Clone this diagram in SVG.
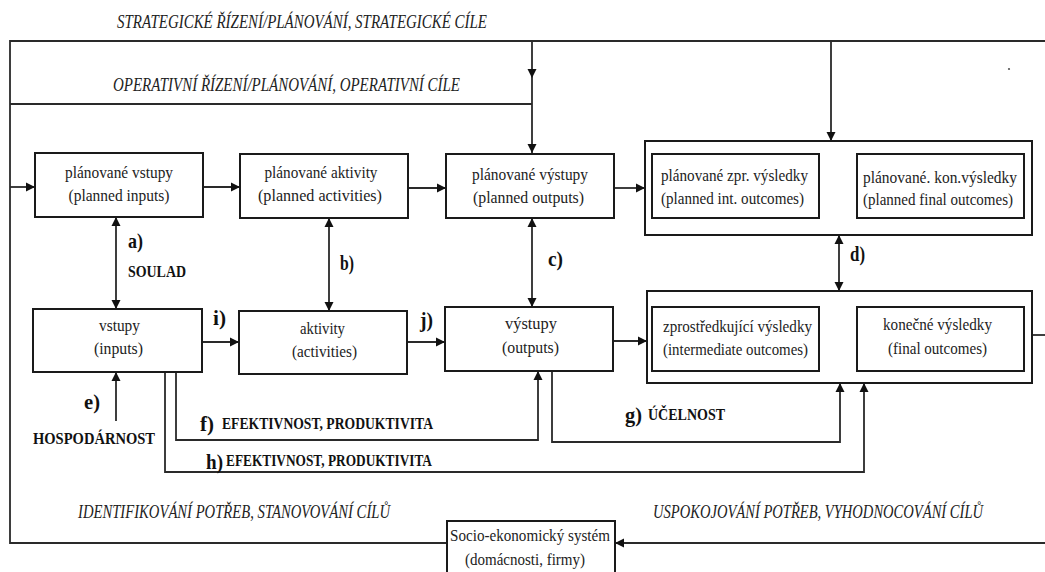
<svg xmlns="http://www.w3.org/2000/svg" width="1045" height="572" viewBox="0 0 1045 572">
<defs>
<marker id="ah" viewBox="0 0 10 10" refX="10" refY="5" markerWidth="9" markerHeight="10" markerUnits="userSpaceOnUse" orient="auto-start-reverse">
<path d="M0,0 L10,5 L0,10 z" fill="#111"/>
</marker>
<style>
.box{fill:#fff;stroke:#1a1a1a;stroke-width:2}
.ln{fill:none;stroke:#2a2a2a;stroke-width:1.8}
.ar{fill:none;stroke:#2a2a2a;stroke-width:1.8;marker-end:url(#ah)}
.dar{fill:none;stroke:#2a2a2a;stroke-width:1.8;marker-start:url(#ah);marker-end:url(#ah)}
.t{font-family:"Liberation Serif",serif;font-size:17px;fill:#222;text-anchor:middle}
.cap{font-family:"Liberation Serif",serif;font-style:italic;font-size:18px;fill:#222;text-anchor:middle}
.lb{font-family:"Liberation Serif",serif;font-weight:bold;font-size:22px;fill:#111}
.bt{font-family:"Liberation Serif",serif;font-weight:bold;font-size:17px;fill:#111}
</style>
</defs>
<rect width="1045" height="572" fill="#fff"/>

<g id="connectors">
<path class="ln" d="M1045,41 H10 V543 H447"/>
<path class="ln" d="M10,104 H532"/>
<path class="ar" d="M532,41 V78"/>
<path class="ar" d="M532,78 V153"/>
<path class="ar" d="M831,41 V141"/>
<path class="ar" d="M10,187 H35"/>
<path class="ar" d="M203,187 H240"/>
<path class="ar" d="M408,188 H446"/>
<path class="ar" d="M614,188 H645"/>
<path class="ar" d="M202,342 H239"/>
<path class="ar" d="M407,342 H445"/>
<path class="ar" d="M613,341 H647"/>
<path class="ln" d="M1032,335 H1045"/>
<path class="ar" d="M1045,543 H615"/>
<path class="dar" d="M116,217 V309"/>
<path class="dar" d="M329,218 V311"/>
<path class="dar" d="M532,218 V307"/>
<path class="dar" d="M839,235 V291"/>
<path class="ar" d="M116,421 V372"/>
<path class="ar" d="M176,372 V440 H538 V371"/>
<path class="ar" d="M165,372 V472 H864 V383"/>
<path class="ar" d="M552,371 V442 H840 V383"/>
</g>
<circle cx="1009" cy="69" r="1.1" fill="#555"/>

<g id="captions">
<text class="cap" x="302" y="28" textLength="370" lengthAdjust="spacingAndGlyphs">STRATEGICKÉ ŘÍZENÍ/PLÁNOVÁNÍ, STRATEGICKÉ CÍLE</text>
<text class="cap" x="286.5" y="91" textLength="347" lengthAdjust="spacingAndGlyphs">OPERATIVNÍ ŘÍZENÍ/PLÁNOVÁNÍ, OPERATIVNÍ CÍLE</text>
<text class="cap" x="234" y="518" textLength="312" lengthAdjust="spacingAndGlyphs">IDENTIFIKOVÁNÍ POTŘEB, STANOVOVÁNÍ CÍLŮ</text>
<text class="cap" x="818" y="518" textLength="330" lengthAdjust="spacingAndGlyphs">USPOKOJOVÁNÍ POTŘEB, VYHODNOCOVÁNÍ CÍLŮ</text>
</g>

<g id="planned-inputs">
<rect class="box" x="35" y="153" width="168" height="64"/>
<text class="t" x="119" y="178" textLength="108" lengthAdjust="spacingAndGlyphs">plánované vstupy</text>
<text class="t" x="119" y="201" textLength="101" lengthAdjust="spacingAndGlyphs">(planned inputs)</text>
</g>
<g id="planned-activities">
<rect class="box" x="240" y="154" width="168" height="64"/>
<text class="t" x="321" y="178" textLength="113" lengthAdjust="spacingAndGlyphs">plánované aktivity</text>
<text class="t" x="320" y="201" textLength="124" lengthAdjust="spacingAndGlyphs">(planned activities)</text>
</g>
<g id="planned-outputs">
<rect class="box" x="446" y="154" width="168" height="64"/>
<text class="t" x="530" y="180" textLength="116" lengthAdjust="spacingAndGlyphs">plánované výstupy</text>
<text class="t" x="528.5" y="203" textLength="111" lengthAdjust="spacingAndGlyphs">(planned outputs)</text>
</g>
<g id="planned-outcomes">
<rect class="box" x="645" y="141" width="387" height="94"/>
<rect class="box" x="652" y="154" width="167" height="64"/>
<text class="t" x="734.5" y="181" textLength="147" lengthAdjust="spacingAndGlyphs">plánované zpr. výsledky</text>
<text class="t" x="732.5" y="204" textLength="143" lengthAdjust="spacingAndGlyphs">(planned int. outcomes)</text>
<rect class="box" x="857" y="154" width="167" height="64"/>
<text class="t" x="940" y="183" textLength="154" lengthAdjust="spacingAndGlyphs">plánované. kon.výsledky</text>
<text class="t" x="938" y="205" textLength="150" lengthAdjust="spacingAndGlyphs">(planned final outcomes)</text>
</g>

<g id="inputs">
<rect class="box" x="33" y="309" width="169" height="63"/>
<text class="t" x="119.5" y="331" textLength="41" lengthAdjust="spacingAndGlyphs">vstupy</text>
<text class="t" x="118.5" y="354" textLength="49" lengthAdjust="spacingAndGlyphs">(inputs)</text>
</g>
<g id="activities">
<rect class="box" x="239" y="311" width="168" height="63"/>
<text class="t" x="322.5" y="334" textLength="45" lengthAdjust="spacingAndGlyphs">aktivity</text>
<text class="t" x="324.5" y="357" textLength="65" lengthAdjust="spacingAndGlyphs">(activities)</text>
</g>
<g id="outputs">
<rect class="box" x="445" y="307" width="168" height="64"/>
<text class="t" x="531" y="329" textLength="52" lengthAdjust="spacingAndGlyphs">výstupy</text>
<text class="t" x="530.5" y="353" textLength="57" lengthAdjust="spacingAndGlyphs">(outputs)</text>
</g>
<g id="outcomes">
<rect class="box" x="647" y="291" width="385" height="92"/>
<rect class="box" x="652" y="307" width="167" height="64"/>
<text class="t" x="737.5" y="332" textLength="149" lengthAdjust="spacingAndGlyphs">zprostředkující výsledky</text>
<text class="t" x="735.5" y="355" textLength="145" lengthAdjust="spacingAndGlyphs">(intermediate outcomes)</text>
<rect class="box" x="857" y="307" width="167" height="64"/>
<text class="t" x="937.5" y="330" textLength="109" lengthAdjust="spacingAndGlyphs">konečné výsledky</text>
<text class="t" x="937.5" y="354" textLength="99" lengthAdjust="spacingAndGlyphs">(final outcomes)</text>
</g>

<g id="socio">
<rect class="box" x="447" y="521" width="168" height="70"/>
<text class="t" x="530" y="541" textLength="160" lengthAdjust="spacingAndGlyphs">Socio-ekonomický systém</text>
<text class="t" x="525" y="565" textLength="120" lengthAdjust="spacingAndGlyphs">(domácnosti, firmy)</text>
</g>

<g id="labels">
<text class="lb" x="128" y="248" textLength="15" lengthAdjust="spacingAndGlyphs">a)</text>
<text class="bt" x="128" y="277" textLength="58" lengthAdjust="spacingAndGlyphs">SOULAD</text>
<text class="lb" x="340" y="270" textLength="14" lengthAdjust="spacingAndGlyphs">b)</text>
<text class="lb" x="548" y="266" textLength="15" lengthAdjust="spacingAndGlyphs">c)</text>
<text class="lb" x="850" y="261" textLength="15" lengthAdjust="spacingAndGlyphs">d)</text>
<text class="lb" x="213" y="325" textLength="13" lengthAdjust="spacingAndGlyphs">i)</text>
<text class="lb" x="420" y="327" textLength="13" lengthAdjust="spacingAndGlyphs">j)</text>
<text class="lb" x="84" y="409" textLength="16" lengthAdjust="spacingAndGlyphs">e)</text>
<text class="bt" x="33" y="444" textLength="122" lengthAdjust="spacingAndGlyphs">HOSPODÁRNOST</text>
<text class="lb" x="200" y="431" textLength="14" lengthAdjust="spacingAndGlyphs">f)</text>
<text class="bt" x="222" y="429" textLength="211" lengthAdjust="spacingAndGlyphs">EFEKTIVNOST, PRODUKTIVITA</text>
<text class="lb" x="206" y="469" textLength="17" lengthAdjust="spacingAndGlyphs">h)</text>
<text class="bt" x="226" y="466" textLength="206" lengthAdjust="spacingAndGlyphs">EFEKTIVNOST, PRODUKTIVITA</text>
<text class="lb" x="625" y="422" textLength="17" lengthAdjust="spacingAndGlyphs">g)</text>
<text class="bt" x="648" y="420" textLength="77" lengthAdjust="spacingAndGlyphs">ÚČELNOST</text>
</g>
</svg>
